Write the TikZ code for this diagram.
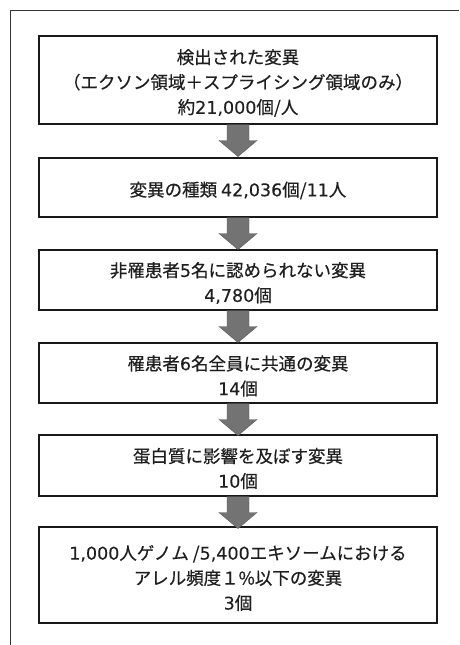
\documentclass[tikz,border=0pt]{standalone}
\usepackage{fontspec}
\setmainfont{Noto Sans CJK JP}[FakeBold=0.5]
\newfontfamily\digitfont{DejaVu Sans}[FakeBold=0.2]
\newcommand\dg[1]{{\digitfont #1}}
\tikzset{
  stepbox/.style={draw=black!90, line width=1.1pt, fill=white, minimum width=398pt, inner sep=0pt},
  steptext/.style={align=center, inner sep=0pt, font=\fontsize{17.5}{25}\selectfont, text=black!88, yshift=-3pt},
  arrowfill/.style={fill=black!55, draw=black!65, line width=0.4pt},
  frameline/.style={draw=black!80, line width=1pt}
}
\begin{document}
\begin{tikzpicture}[x=1pt,y=1pt]
\useasboundingbox (0,0) rectangle (459,645);
\coordinate (fbl) at (10,0);
\coordinate (ftl) at (10,634);
\coordinate (ftr) at (459,634);
\draw[frameline] (fbl) -- (ftl) -- (ftr);
\node[stepbox, minimum height=88pt] (b1) at (238,565) {};
\node[stepbox, minimum height=59pt] (b2) at (238,457.5) {};
\node[stepbox, minimum height=60pt] (b3) at (238,365) {};
\node[stepbox, minimum height=60pt] (b4) at (238,272) {};
\node[stepbox, minimum height=61pt] (b5) at (238,179.5) {};
\node[stepbox, minimum height=96pt] (b6) at (238,70) {};
\node[steptext] (t1) at (b1) {検出された変異\\（エクソン領域＋スプライシング領域のみ）\\約\dg{21,000}個/人};
\node[steptext] (t2) at (b2) {変異の種類 \dg{42,036}個/\dg{11}人};
\node[steptext] (t3) at (b3) {非罹患者\dg{5}名に認められない変異\\\dg{4,780}個};
\node[steptext] (t4) at (b4) {罹患者\dg{6}名全員に共通の変異\\\dg{14}個};
\node[steptext] (t5) at (b5) {蛋白質に影響を及ぼす変異\\\dg{10}個};
\node[steptext] (t6) at (b6) {\dg{1,000}人ゲノム /\dg{5,400}エキソームにおける\\アレル頻度１\%以下の変異\\\dg{3}個};
\draw[arrowfill] (b1.south) ++(-11,0) -- ++(0,-16) -- ++(-8,0) -- ++(19,-16) -- ++(19,16) -- ++(-8,0) -- ++(0,16) -- cycle;
\draw[arrowfill] (b2.south) ++(-11,0) -- ++(0,-16) -- ++(-8,0) -- ++(19,-16) -- ++(19,16) -- ++(-8,0) -- ++(0,16) -- cycle;
\draw[arrowfill] (b3.south) ++(-11,0) -- ++(0,-16) -- ++(-8,0) -- ++(19,-16) -- ++(19,16) -- ++(-8,0) -- ++(0,16) -- cycle;
\draw[arrowfill] (b4.south) ++(-11,0) -- ++(0,-16) -- ++(-8,0) -- ++(19,-16) -- ++(19,16) -- ++(-8,0) -- ++(0,16) -- cycle;
\draw[arrowfill] (b5.south) ++(-11,0) -- ++(0,-16) -- ++(-8,0) -- ++(19,-16) -- ++(19,16) -- ++(-8,0) -- ++(0,16) -- cycle;
\end{tikzpicture}
\end{document}
